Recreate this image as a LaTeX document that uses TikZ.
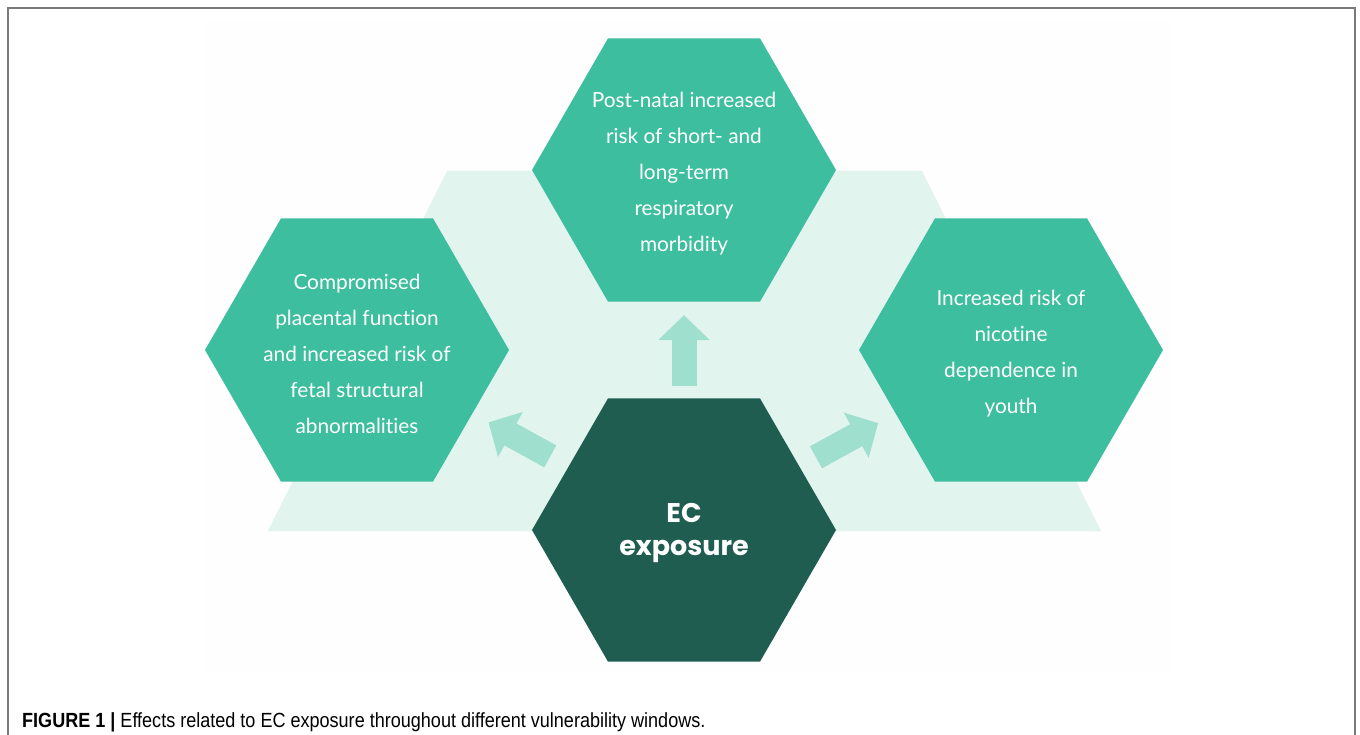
\documentclass[tikz,border=0pt]{standalone}
\usepackage{fontspec}
\usetikzlibrary{shapes.geometric,arrows.meta}

\newfontfamily\latofont[Ligatures=NoCommon]{Lato}
\newfontfamily\poppinsfont{Poppins}
\newfontfamily\captionfont[FakeStretch=0.88]{Liberation Sans}

\definecolor{hexteal}{HTML}{3DBE9F}
\definecolor{hexdark}{HTML}{1E5D50}
\definecolor{bandmint}{HTML}{E1F4EE}
\definecolor{arrowmint}{HTML}{9FDFCD}
\definecolor{panelwhite}{HTML}{FDFEFD}
\definecolor{framegray}{HTML}{7A7A7A}

\tikzset{
  hexcell/.style={regular polygon, regular polygon sides=6, minimum size=304pt,
    inner sep=0pt, outer sep=0pt, fill=hexteal},
  celltext/.style={text=white, align=center, yshift=-4pt,
    font=\latofont\fontsize{20.8}{36}\selectfont},
  bigarrow/.style={draw=arrowmint, line width=25pt, -{Triangle[length=25pt,width=50pt]}},
}

\begin{document}
\begin{tikzpicture}[x=1pt, y=-1pt]
    \useasboundingbox (0,0) rectangle (1360,735);
    \draw[framegray, line width=1.2pt] (8,8) rectangle (1355,760);
    \fill[panelwhite] (205,22) rectangle (1172,672);

    % band behind the cells
    \fill[bandmint] (447,171) -- (922,171) -- (1101,531) -- (268,531) -- cycle;

    % cells
    \node[hexcell] (resp) at (684,170) {};
    \node[hexcell] (placenta) at (357,350) {};
    \node[hexcell] (nicotine) at (1011,350) {};
    \node[hexcell, fill=hexdark] (ec) at (684,530) {};

    \node[celltext] (resp-text) at (resp) {Post-natal increased\\risk of short- and\\long-term\\respiratory\\morbidity};
    \node[celltext] (placenta-text) at (placenta) {Compromised\\placental function\\and increased risk of\\fetal structural\\abnormalities};
    \node[celltext] (nicotine-text) at (nicotine) {Increased risk of\\nicotine\\dependence in\\youth};
    \node[text=white, align=center, yshift=-3pt,
        font=\poppinsfont\bfseries\fontsize{27}{33}\selectfont] (ec-text) at (ec) {EC\\exposure};

    % arrows out of the exposure cell
    \draw[bigarrow, shorten <=12.5pt, shorten >=13.5pt] (ec) -- (resp);
    \draw[bigarrow, shorten <=21pt, shorten >=18.5pt] (ec) -- (placenta);
    \draw[bigarrow, shorten <=19pt, shorten >=20pt] (ec) -- (nicotine);

    \node[anchor=base west, inner sep=0pt, font=\captionfont\fontsize{20.5}{22}\selectfont] (caption) at (22,727)
        {\textbf{FIGURE 1 |} Effects related to EC exposure throughout different vulnerability windows.};
\end{tikzpicture}
\end{document}
